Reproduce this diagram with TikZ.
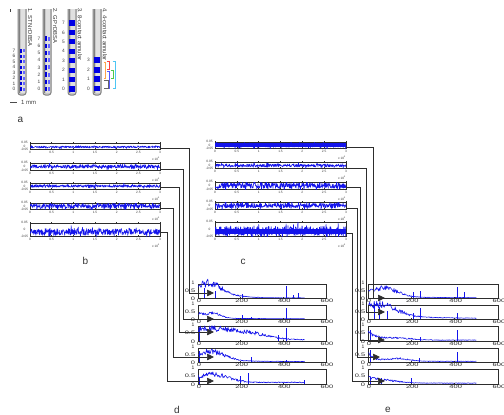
\documentclass[tikz,border=0pt]{standalone}
\usepackage{fontspec}
\setmainfont{Liberation Sans}
\usetikzlibrary{arrows.meta}
\definecolor{trace}{RGB}{20,20,235}
\definecolor{axisc}{RGB}{45,45,45}
\tikzset{
  x=1pt,y=-1pt,
  declare function={gs(\u)=exp(-(min(abs(\u),2.8))^2); ex(\u)=exp(-min(\u,7));},
  frame/.style={draw=axisc,line width=0.7pt,inner sep=0pt,outer sep=0pt,fill=white},
  wire/.style={draw=axisc,line width=0.65pt},
  arrowwire/.style={wire,-{Triangle[length=7pt,width=6.5pt]}},
  tr/.style={trace,line width=0.6pt,line join=round},
  trs/.style={trace,line width=0.6pt,line join=round},
  tinylab/.style={font=\fontsize{3.2}{3.4}\selectfont,text=black!75,inner sep=0pt},
  speclab/.style={font=\fontsize{5}{5}\selectfont,text=black!85,inner sep=0pt},
  panellab/.style={font=\fontsize{10}{11}\selectfont,text=black!80,inner sep=0pt},
  probelab/.style={font=\fontsize{4.8}{5}\selectfont,text=black!75,inner sep=0pt},
  probetitle/.style={font=\fontsize{5.8}{6}\selectfont,text=black!80,inner sep=0pt,rotate=-90,anchor=west},
  probebody/.style={draw=black!50,line width=1pt,fill=black!22,rounded corners=2.5pt},
  brk/.style={line width=0.7pt},
}
% time plot: name, x0, y0, x1, y1, trace centre, amplitude
\newcommand{\tplot}[7]{%
  \pgfmathsetmacro{\xa}{#2}\pgfmathsetmacro{\xb}{#4}
  \pgfmathsetmacro{\pw}{\xb-\xa}
  \node[frame,minimum width=#4pt-#2pt,minimum height=#5pt-#3pt,anchor=north west] (#1) at (#2,#3) {};
  \begin{scope}
  \clip (#2,#3) rectangle (#4,#5);
  \draw[tr] plot[domain=0:1,samples=420] ({\xa+\x*\pw},{#6+#7*(rnd-0.5)*(1+1.6*rnd^8)});
  \end{scope}
  \foreach \kk/\lbl in {0/0,1/0.5,2/1,3/1.5,4/2,5/2.5,6/3}{
    \pgfmathsetmacro{\tx}{\xa+\kk*\pw/6}
    \draw[axisc,line width=0.4pt] (\tx,#3-0.6) -- (\tx,#3+1);
    \draw[axisc,line width=0.4pt] (\tx,#5) -- (\tx,#5-1);
    \node[tinylab] at (\tx,#5+3) {\lbl};
  }
  \node[tinylab] at (#2-5.5,#3-0.7) {0.05};
  \node[tinylab] at ({#2-5.5},{(#3+#5)/2}) {0};
  \node[tinylab] at (#2-5.5,#5+0.7) {-0.05};
  \node[tinylab] at (\xb-4,#5+10) {x 10$^{\mathsf{5}}$};
}
% spectrum plot: name, x0, y0, x1, y1, envelope expression in \x, spikes
\newcommand{\splot}[7]{%
  \pgfmathsetmacro{\xa}{#2}\pgfmathsetmacro{\xb}{#4}
  \pgfmathsetmacro{\pw}{\xb-\xa}\pgfmathsetmacro{\ph}{#5-#3}
  \node[frame,minimum width=#4pt-#2pt,minimum height=#5pt-#3pt,anchor=north west] (#1) at (#2,#3) {};
  \draw[trs] plot[domain=2:500,samples=170] ({\xa+\x/600*\pw},{#5-\ph*max(0,(#6)*(0.72+0.56*rnd)+0.02*rnd)});
  \foreach \ff/\aa in {#7}{
    \draw[trs] ({\xa+\ff/600*\pw},#5) -- ({\xa+\ff/600*\pw},{#5-\ph*\aa});
  }
  \foreach \kk/\lbl in {0/0,1/200,2/400,3/600}{
    \pgfmathsetmacro{\tx}{\xa+\kk*\pw/3}
    \draw[axisc,line width=0.4pt] (\tx,#3) -- (\tx,#3+1);
    \draw[axisc,line width=0.4pt] (\tx,#5) -- (\tx,#5-1);
    \node[speclab] at (\tx+1,#5+3) {\scalebox{1.5}[1]{\lbl}};
  }
  \node[speclab] at (#2-5,#3-1.5) {1};
  \node[speclab] at (#2-8,{(#3+#5)/2-0.5}) {\scalebox{1.5}[1]{0.5}};
  \node[speclab] at (#2-5,#5+0.5) {\scalebox{1.5}[1]{0}};
}
\begin{document}
\begin{tikzpicture}
\pgfmathsetseed{4711}
\useasboundingbox (0,0) rectangle (504,415);
\fill[white] (0,0) rectangle (504,415);

%%% panel a
\fill[black!75] (10,9) rectangle (11.2,12);
\foreach \n/\px in {p1/18,p2/43,p3/68,p4/93}{
  \draw[probebody] (\px,5) -- (\px+8,5) -- (\px+8,95) -- (\px,95) -- cycle;
  \fill[black!50] (\px+0.6,9) rectangle (\px+1.8,93);
  \fill[black!12] (\px+3,9) rectangle (\px+6.5,93);
}
\fill[white] (16,0) rectangle (104,9);
% probe 1
\foreach \i in {0,...,7}{
  \pgfmathsetmacro{\yy}{89-\i*5.45}
  \node[probelab] at (14,\yy) {\i};
  \fill[blue!85!black] (19.5,\yy-1.7) rectangle (22.3,\yy+1.7);
  \fill[blue!60] (22.7,\yy-1.5) rectangle (25,\yy+1.5);
}
% probe 2
\foreach \i in {0,...,7}{
  \pgfmathsetmacro{\yy}{89-\i*7.2}
  \node[probelab] at (39,\yy) {\i};
  \fill[blue!85!black] (44.5,\yy-2.2) rectangle (47.3,\yy+2.2);
  \fill[blue!60] (47.7,\yy-2) rectangle (50,\yy+2);
}
% probe 3
\foreach \i in {0,...,7}{
  \pgfmathsetmacro{\yy}{89-\i*9.43}
  \node[probelab] at (63.5,\yy) {\i};
  \fill[blue!90!black] (69,\yy-2.6) rectangle (75.4,\yy+2.6);
}
% probe 4
\foreach \i in {0,...,3}{
  \pgfmathsetmacro{\yy}{88.5-\i*9.4}
  \node[probelab] at (88.5,\yy) {\i};
  \fill[blue!90!black] (94,\yy-2.9) rectangle (100.4,\yy+2.9);
}
\node[probetitle] (t1) at (30,8.5) {1. STN rDBSA};
\node[probetitle] (t2) at (55,8.5) {2. GP rDBSA};
\node[probetitle] (t3) at (80,8.5) {3. 8-contact annular};
\node[probetitle] (t4) at (105,8.5) {4. 4-contact annular};
% brackets
\draw[brk,red!75] (107,61.5) -- (109,61.5) -- (109,69) -- (107,69);
\draw[brk,orange!70] (103.5,62) -- (105.5,62) -- (105.5,78) -- (103.5,78);
\draw[brk,green!70!black!70] (110.5,70.5) -- (113,70.5) -- (113,78) -- (110.5,78);
\draw[brk,blue!65] (107,71.5) -- (109.5,71.5) -- (109.5,88) -- (107,88);
\draw[brk,black!60] (104,80) -- (108,80) -- (108,88) -- (104,88);
\draw[brk,cyan!70] (112.5,61) -- (115.5,61) -- (115.5,88) -- (112.5,88);
\draw[black!70,line width=0.7pt] (10,102) -- (17,102);
\node[probelab,anchor=west,font=\fontsize{6}{6}\selectfont] (scale) at (21,102.3) {1 mm};
\node[panellab] (la) at (20.5,119.5) {a};

%%% panel b
\tplot{b1}{30}{143}{160}{149}{147}{1.6}
\tplot{b2}{30}{163}{160}{170}{166.5}{3.2}
\tplot{b3}{30}{183}{160}{189}{186}{2.4}
\tplot{b4}{30}{203}{160}{209}{206}{4.4}
\tplot{b5}{30}{223}{160}{236}{232}{6}
\node[panellab] (lb) at (85.5,261) {b};

%%% panel c
\tplot{c1}{215}{142}{346}{148}{145.2}{4.2}
\fill[trace] (215,143.4) rectangle (346,147);
\tplot{c2}{215}{162}{346}{168}{165.5}{2.8}
\tplot{c3}{215}{182}{346}{189}{185.5}{5.5}
\tplot{c4}{215}{202}{346}{209}{205.5}{4.5}
\tplot{c5}{215}{222}{346}{236}{231}{9}
\fill[trace] (215,228.5) rectangle (346,233.5);
\node[panellab] (lc) at (243,262) {c};

%%% panel d
\splot{d1}{198}{284}{326}{298}{0.62*gs((\x-60)/70)+0.5*gs(\x/170)}{28/0.7,80/0.5,206/0.3,412/0.85,468/0.38,448/0.2}
\splot{d2}{198}{305}{326}{319}{0.33*gs((\x-70)/50)+0.3*ex(\x/35)+0.05*ex(\x/300)}{206/0.3,412/0.8,250/0.15}
\splot{d3}{198}{326}{326}{341}{0.75*gs((\x-50)/130)+0.42*gs((\x-240)/120)+0.08}{4/0.8,412/0.85,378/0.4}
\splot{d4}{198}{348}{326}{362}{0.65*gs((\x-60)/90)+0.12*ex(\x/300)}{250/0.33,4/0.8,412/0.15}
\splot{d5}{198}{369}{326}{384}{0.55*gs((\x-70)/100)+0.1}{196/0.55,235/0.75,8/0.5,498/0.25}
\node[panellab] (ld) at (177,410) {d};

%%% panel e
\splot{e1}{368}{284}{498}{298}{0.62*gs((\x-75)/85)+0.14*ex(\x/200)}{210/0.45,240/0.5,410/0.8,445/0.4}
\splot{e2}{368}{305}{498}{319}{0.85*gs((\x-50)/110)+0.25*ex(\x/300)}{30/0.95,50/0.85,90/0.6,210/0.4,240/0.8,410/0.45}
\splot{e3}{368}{326}{498}{341}{0.6*ex(\x/35)+0.13*gs((\x-130)/100)+0.05}{10/0.75,410/0.75,240/0.25}
\splot{e4}{368}{348}{498}{362}{0.6*ex(\x/30)+0.2*gs((\x-140)/70)+0.04}{10/0.85,410/0.75,235/0.3}
\splot{e5}{368}{369}{498}{384}{0.4*ex(\x/50)+0.13*gs((\x-90)/80)+0.05}{10/0.5,200/0.4,60/0.4}
\node[panellab] (le) at (388,410) {e};

%%% connectors b -> d
\coordinate (bo1) at (160,148); \coordinate (bv1) at (189,293); \coordinate (di1) at (214,293);
\coordinate (bo2) at (160,169); \coordinate (bv2) at (183,319); \coordinate (di2) at (214,319);
\coordinate (bo3) at (160,187); \coordinate (bv3) at (179,332); \coordinate (di3) at (214,332);
\coordinate (bo4) at (160,208); \coordinate (bv4) at (173,357); \coordinate (di4) at (214,357);
\coordinate (bo5) at (160,232); \coordinate (bv5) at (167,381); \coordinate (di5) at (214,381);
\foreach \i in {1,...,5}{
  \draw[arrowwire] (bo\i) -| (bv\i) -- (di\i);
}
%%% connectors c -> e
\coordinate (co1) at (346,147); \coordinate (cv1) at (373,298); \coordinate (ei1) at (385,298);
\coordinate (co2) at (346,168); \coordinate (cv2) at (366,312); \coordinate (ei2) at (385,312);
\coordinate (co3) at (346,187); \coordinate (cv3) at (360,340); \coordinate (ei3) at (385,340);
\coordinate (co4) at (346,208); \coordinate (cv4) at (357,357); \coordinate (ei4) at (380,357);
\coordinate (co5) at (346,233); \coordinate (cv5) at (352,381); \coordinate (ei5) at (385,381);
\foreach \i in {1,...,5}{
  \draw[arrowwire] (co\i) -| (cv\i) -- (ei\i);
}
\end{tikzpicture}
\end{document}
